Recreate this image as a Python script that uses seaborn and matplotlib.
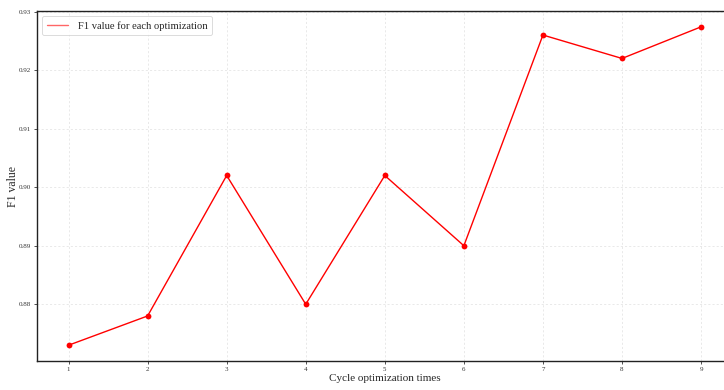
import matplotlib
matplotlib.use("Agg")
import matplotlib.pyplot as plt
import seaborn as sns
import pandas as pd

# F1 score after each optimization cycle
cycles = [1, 2, 3, 4, 5, 6, 7, 8, 9]
f1_values = [0.873, 0.878, 0.902, 0.880, 0.902, 0.890, 0.926, 0.922, 0.9274]
tick_labels = ["1", "2", "3", "4", "5", "6", "7", "8", "9"]

sns.set_theme(style="ticks")
plt.rcParams["font.family"] = ["Liberation Serif", "DejaVu Serif"]

df = pd.DataFrame({"cycle": cycles, "f1": f1_values})

fig = plt.figure(figsize=(7.24, 3.9), dpi=100)
ax = fig.add_axes([0.051, 0.074, 0.961, 0.898])

sns.lineplot(data=df, x="cycle", y="f1", ax=ax, color="red", linewidth=1.0,
             marker="o", markersize=4.2, markeredgewidth=0,
             label="F1 value for each optimization")

ax.set_xticks(cycles)
ax.set_xticklabels(tick_labels)
ax.set_yticks([0.88, 0.89, 0.90, 0.91, 0.92, 0.93])
ax.set_yticklabels(["0.88", "0.89", "0.90", "0.91", "0.92", "0.93"])
ax.tick_params(axis="both", labelsize=5, length=2.5, width=0.6, pad=1.5,
               colors="#333333")
ax.grid(True, linestyle=(0, (3, 3)), color="#e0e0e0", linewidth=0.5)
ax.set_axisbelow(True)

for side in ["left", "bottom", "top", "right"]:
    ax.spines[side].set_color("#222222")
    ax.spines[side].set_linewidth(1.0)

ax.set_xlabel("Cycle optimization times", fontsize=8, labelpad=2)
ax.set_ylabel("F1 value", fontsize=8.5)
ax.yaxis.set_label_coords(-0.026, 0.5)

leg = ax.legend(loc="upper left", fontsize=7.6, frameon=True, fancybox=True,
                borderpad=0.45, handlelength=2.0, handletextpad=0.9,
                borderaxespad=0.5)
leg.get_frame().set_edgecolor("#cccccc")
leg.get_frame().set_linewidth(0.6)
for h in leg.legend_handles:
    h.set_marker("")
    h.set_alpha(0.6)

fig.savefig("out.png", dpi=100)
